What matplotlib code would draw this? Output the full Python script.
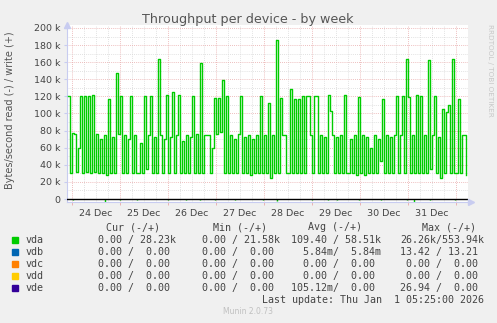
import matplotlib
matplotlib.use("Agg")
import matplotlib.pyplot as plt
import numpy as np

# write throughput (k bytes/s), one sample per hour, starting Dec 23 22:00
write_pre = [120, 30]
write_dec24 = [77, 76, 32, 60, 120, 30, 120, 32, 120, 30, 122, 31, 76, 30, 70, 30, 75, 28, 117, 30, 72, 30, 147, 76]
write_dec25 = [121, 30, 75, 30, 70, 121, 30, 75, 30, 30, 65, 30, 121, 35, 75, 121, 30, 72, 30, 164, 75, 30, 70, 122]
write_dec26 = [30, 72, 125, 30, 75, 122, 30, 68, 30, 75, 30, 72, 120, 30, 76, 30, 159, 30, 75, 75, 75, 30, 60, 118]
write_dec27 = [76, 118, 78, 139, 30, 120, 30, 75, 30, 70, 30, 76, 121, 30, 72, 30, 75, 28, 70, 30, 75, 30, 120, 30]
write_dec28 = [75, 30, 112, 25, 75, 30, 186, 30, 118, 75, 75, 30, 30, 129, 30, 117, 30, 117, 30, 120, 30, 120, 120, 75]
write_dec29 = [30, 120, 120, 30, 75, 30, 72, 30, 122, 103, 75, 30, 72, 30, 75, 30, 122, 30, 30, 70, 30, 75, 28, 119]
write_dec30 = [30, 75, 28, 72, 30, 60, 30, 75, 30, 70, 45, 117, 30, 75, 30, 72, 30, 75, 120, 30, 75, 120, 30, 164]
write_dec31 = [119, 30, 75, 30, 122, 30, 120, 30, 75, 30, 163, 35, 75, 120, 30, 72, 25, 105, 30, 102, 110, 30, 164, 30]
write_jan1 = [30, 117, 30, 75, 75, 28]

# small read spikes (hours from Dec 24 00:00, k bytes/s)
read_hours = [0.5, 16.5, 24, 32.5, 48, 57, 64, 71.5, 81.5, 95.5, 102.5, 120, 128, 132.5, 143.5, 154.5, 167.5, 171, 179, 191.5]
read_vals = [1, 3, 1, 1, 1, 1, 1, 1, 1, 1, 2, 1, 1, 1, 1, 1, 1, 3, 1, 1]

day_labels = ["24 Dec", "25 Dec", "26 Dec", "27 Dec", "28 Dec", "29 Dec", "30 Dec", "31 Dec"]
yticks_k = [0, 20, 40, 60, 80, 100, 120, 140, 160, 180, 200]

devices = ["vda", "vdb", "vdc", "vdd", "vde"]
colors = ["#00CC00", "#0066B3", "#FF8000", "#FFCC00", "#330099"]
cur = ["0.00 / 28.23k", "0.00 /  0.00 ", "0.00 /  0.00 ", "0.00 /  0.00 ", "0.00 /  0.00 "]
mins = ["0.00 / 21.58k", "0.00 /  0.00 ", "0.00 /  0.00 ", "0.00 /  0.00 ", "0.00 /  0.00 "]
avgs = ["109.40 / 58.51k", "5.84m/  5.84m", "0.00 /  0.00 ", "0.00 /  0.00 ", "105.12m/  0.00 "]
maxs = ["26.26k/553.94k", "13.42 / 13.21 ", "0.00 /  0.00 ", "0.00 /  0.00 ", "26.94 /  0.00 "]

W, H = 497, 323
fig = plt.figure(figsize=(W / 100, H / 100), dpi=100, facecolor="#F0F0F0")

def fx(px):
    return px / W

def fy(py):
    return 1 - py / H

ymin, ymax = -3.5, 203.0
x0, x1 = -2.5, 198.0
ax = fig.add_axes([fx(67), fy(202), fx(468) - fx(67), fy(25.4) - fy(202)])
ax.set_facecolor("white")
ax.set_xlim(x0, x1)
ax.set_ylim(ymin, ymax)

write = write_pre + write_dec24 + write_dec25 + write_dec26 + write_dec27 + write_dec28 + write_dec29 + write_dec30 + write_dec31 + write_jan1
hours = np.arange(len(write)) - 2

# grid: gray every 6h / 10k, red every day / 20k
for h in range(0, 198, 6):
    if h % 24:
        ax.axvline(h, color="#d8d8d8", lw=0.6, ls=(0, (1, 1.5)), zorder=0)
for h in range(0, 198, 24):
    ax.axvline(h, color="#e8a8a8", lw=0.6, ls=(0, (1, 1.5)), zorder=0)
for v in range(10, 201, 10):
    c = "#e8a8a8" if v % 20 == 0 else "#d8d8d8"
    ax.axhline(v, color=c, lw=0.6, ls=(0, (1, 1.5)), zorder=0)

ax.step(hours, write, where="post", color="#00CC00", lw=1.0, zorder=3)
ax.vlines(read_hours, [-v for v in read_vals], 0, color="#00CC00", lw=1.0, zorder=3)
ax.axhline(0, color="black", lw=1.0, zorder=4)

for s in ["top", "right"]:
    ax.spines[s].set_visible(False)
for s in ["left", "bottom"]:
    ax.spines[s].set_color("#c8ccf0")
    ax.spines[s].set_linewidth(0.8)
ax.plot([x0], [ymax], marker="^", color="#c8ccf0", ms=4, clip_on=False, zorder=5)
ax.plot([x1 + 1.5], [ymin], marker=">", color="#c8ccf0", ms=4, clip_on=False, zorder=5)

ax.set_yticks(yticks_k)
ax.set_yticklabels(["0"] + ["%d k" % v for v in yticks_k[1:]])
ax.set_xticks([12 + 24 * i for i in range(len(day_labels))])
ax.set_xticklabels(day_labels)
ax.set_xticks(range(0, 198, 24), minor=True)
ax.tick_params(axis="x", which="major", length=0, pad=5, labelsize=6.8, colors="#444444")
ax.tick_params(axis="x", which="minor", length=2, color="#e8a8a8")
ax.tick_params(axis="y", length=2, color="#c8ccf0", pad=3, labelsize=6.8, labelcolor="#444444")

fig.text(fx(248), fy(20), "Throughput per device - by week", ha="center", va="center",
         fontsize=9.2, color="#555555")
fig.text(fx(10), fy(110), "Bytes/second read (-) / write (+)", rotation=90, ha="center",
         va="center", fontsize=7, color="#555555")
fig.text(fx(490), fy(70), "RRDTOOL / TOBI OETIKER", rotation=270, ha="center", va="center",
         fontsize=5.2, color="#c8c8c8")

mono = "DejaVu Sans Mono"
fs = 7.2
tc = "#444444"
hy = 227
for lbl, cx in [("Cur (-/+)", 133), ("Min (-/+)", 240), ("Avg (-/+)", 335), ("Max (-/+)", 449)]:
    fig.text(fx(cx), fy(hy), lbl, ha="center", va="center", family=mono, fontsize=fs, color=tc)

for i, dev in enumerate(devices):
    y = 240 + 12 * i
    fig.patches.append(plt.Rectangle((fx(12), fy(y + 3)), fx(6), fy(y - 3) - fy(y + 3),
                                     transform=fig.transFigure, color=colors[i]))
    fig.text(fx(26), fy(y), dev, ha="left", va="center", family=mono, fontsize=fs, color=tc)
    fig.text(fx(176), fy(y), cur[i], ha="right", va="center", family=mono, fontsize=fs, color=tc)
    fig.text(fx(280), fy(y), mins[i], ha="right", va="center", family=mono, fontsize=fs, color=tc)
    fig.text(fx(381), fy(y), avgs[i], ha="right", va="center", family=mono, fontsize=fs, color=tc)
    fig.text(fx(484), fy(y), maxs[i], ha="right", va="center", family=mono, fontsize=fs, color=tc)

fig.text(fx(484), fy(300), "Last update: Thu Jan  1 05:25:00 2026", ha="right", va="center",
         family=mono, fontsize=fs, color=tc)
fig.text(fx(248), fy(312), "Munin 2.0.73", ha="center", va="center", fontsize=5.5, color="#c0c0c0")

fig.savefig("out.png", dpi=100, facecolor=fig.get_facecolor())
